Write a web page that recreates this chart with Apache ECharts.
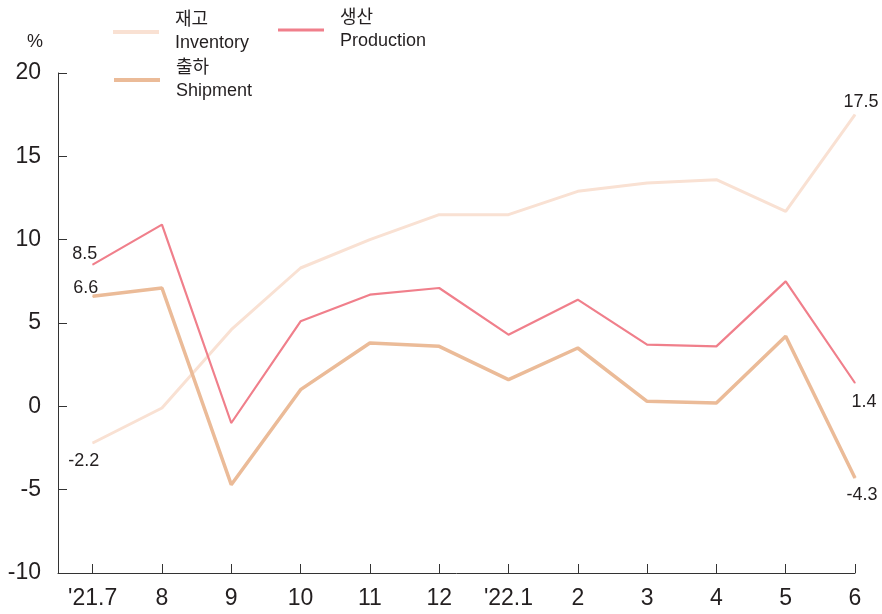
<!DOCTYPE html>
<html>
<head>
<meta charset="utf-8">
<script src="https://cdn.jsdelivr.net/npm/echarts@6/dist/echarts.min.js"></script>
<style>
html,body{margin:0;padding:0;background:#fff;}
#chart{width:882px;height:614px;}
</style>
</head>
<body>
<div id="chart"></div>
<script>
var categories = ["'21.7", "8", "9", "10", "11", "12", "'22.1", "2", "3", "4", "5", "6"];
var inventory  = [-2.2, -0.1, 4.6, 8.3, 10.0, 11.5, 11.5, 12.9, 13.4, 13.6, 11.7, 17.5];
var production = [8.5, 10.9, -1.0, 5.1, 6.7, 7.1, 4.3, 6.4, 3.7, 3.6, 7.5, 1.4];
var shipment   = [6.6, 7.1, -4.7, 1.0, 3.8, 3.6, 1.6, 3.5, 0.3, 0.2, 4.2, -4.3];
var namesKo = ['재고', '생산', '출하'];
var namesEn = ['Inventory', 'Production', 'Shipment'];
var yTicks = [-10, -5, 0, 5, 10, 15, 20];

var FONT = '"Liberation Sans", Arial, sans-serif';
var LFONT = '"Liberation Sans", Arial, "Noto Sans CJK KR", sans-serif';
var TXT = '#231f20';
var colors = ['#f9e1d3', '#f07f8b', '#ebbb98'];

function makeData(arr, firstLabel, lastLabel) {
  return arr.map(function (v, i) {
    var item = { value: [i, v] };
    if (i === 0 && firstLabel) item.label = firstLabel;
    if (i === arr.length - 1 && lastLabel) item.label = lastLabel;
    return item;
  });
}
function lab(pos, dx, dy) {
  return { show: true, position: pos, offset: [dx, dy], fontSize: 18, color: TXT, fontFamily: FONT,
           formatter: function (p) { return p.value[1].toFixed(1); } };
}

var chart = echarts.init(document.getElementById('chart'));
var idx = categories.map(function (c, i) { return i; });

var option = {
  animation: false,
  textStyle: { fontFamily: FONT },
  grid: { left: 58, right: 27, top: 73, bottom: 41, outerBoundsMode: 'none' },
  legend: [0, 1, 2].map(function (k) {
    var pos = [[108, 4], [273, 2], [109, 52]][k];
    return {
      data: [namesKo[k]],
      left: pos[0], top: pos[1],
      orient: 'vertical',
      icon: 'rect', itemWidth: 46, itemHeight: k === 1 ? 3 : 4,
      selectedMode: false,
      formatter: function (n) { return n + '\n' + namesEn[namesKo.indexOf(n)]; },
      textStyle: { fontSize: 18, lineHeight: 23, color: TXT, fontFamily: LFONT, padding: [0, 0, 0, 11] }
    };
  }),
  xAxis: {
    type: 'value', min: -0.5, max: categories.length - 1,
    splitLine: { show: false },
    axisLine: { show: true, onZero: false, lineStyle: { color: '#333', width: 1 } },
    axisTick: { show: true, inside: true, length: 9, customValues: idx, lineStyle: { color: '#333' } },
    axisLabel: { customValues: idx, fontSize: 23, color: TXT, fontFamily: FONT, margin: 14,
                 formatter: function (v) { return categories[Math.round(v)]; } }
  },
  yAxis: {
    type: 'value', min: yTicks[0], max: yTicks[yTicks.length - 1], interval: 5,
    name: '%', nameLocation: 'end', nameGap: 22,
    nameTextStyle: { fontSize: 18, color: TXT, fontFamily: LFONT, align: 'right', padding: [0, 15, 0, 0] },
    splitLine: { show: false },
    axisLine: { show: true, onZero: false, lineStyle: { color: '#333', width: 1 } },
    axisTick: { show: true, inside: true, length: 9, lineStyle: { color: '#333' } },
    axisLabel: { fontSize: 23, color: TXT, fontFamily: FONT, margin: 17 }
  },
  series: [
    {
      name: namesKo[0], type: 'line', color: colors[0],
      symbol: 'circle', symbolSize: 1, showSymbol: true,
      lineStyle: { width: 3, color: colors[0] },
      data: makeData(inventory, lab('bottom', -9, 4), lab('top', 6, 2)),
      z: 2
    },
    {
      name: namesKo[1], type: 'line', color: colors[1],
      symbol: 'circle', symbolSize: 1, showSymbol: true,
      lineStyle: { width: 2.2, color: colors[1] },
      data: makeData(production, lab('top', -8, 4), lab('bottom', 9, 5)),
      z: 3
    },
    {
      name: namesKo[2], type: 'line', color: colors[2],
      symbol: 'circle', symbolSize: 1, showSymbol: true,
      lineStyle: { width: 3.5, color: colors[2] },
      data: makeData(shipment, lab('top', -7, 6), lab('bottom', 7, 3)),
      z: 4
    }
  ]
};
chart.setOption(option);
</script>
</body>
</html>
